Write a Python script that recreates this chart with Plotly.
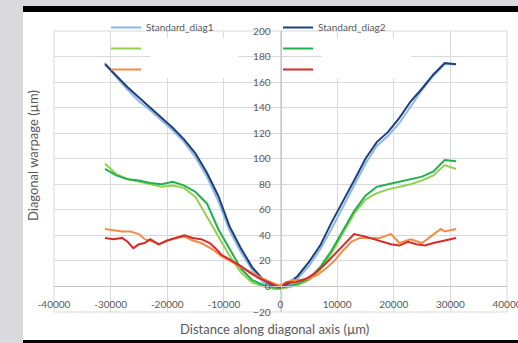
import plotly.graph_objects as go

# ---------------- data ----------------
x_std = [-31000, -29000, -27000, -25000, -23000, -21000, -19000, -17000, -15000,
         -13000, -11000, -9000, -7000, -5000, -3000, -1000, 0, 1000, 3000, 5000,
         7000, 9000, 11000, 13000, 15000, 17000, 19000, 21000, 23000, 25000,
         27000, 29000, 31000]

std_diag1 = [175, 164, 154, 145, 138, 130, 122, 113, 101, 86, 67, 44, 27, 13, 3, -1,
             -1, 0, 6, 16, 29, 45, 62, 80, 96, 110, 118, 128, 141, 154, 165, 174, 174]
std_diag2 = [174, 165, 156, 148, 140, 132, 124, 115, 104, 89, 71, 47, 30, 15, 5, 0,
             -1, 1, 8, 19, 32, 50, 66, 83, 100, 113, 121, 132, 145, 155, 166, 175, 174]

green_light = [96, 88, 84, 82, 80, 78, 79, 77, 70, 55, 40, 24, 11, 3, 0, -2,
               -2, -1, 1, 5, 13, 26, 42, 57, 68, 73, 76, 78, 80, 83, 87, 95, 92]
green_dark = [92, 87, 84, 83, 81, 80, 82, 79, 74, 65, 45, 29, 14, 5, 1, -1,
              -1, 0, 2, 6, 15, 28, 44, 59, 71, 78, 80, 82, 84, 86, 90, 99, 98]

x_orange = [-31000, -29500, -28000, -26500, -25000, -24000, -22500, -21500, -20000,
            -18500, -17000, -15500, -14000, -12000, -10500, -8500, -7000, -5500,
            -4000, -2500, -1000, 0, 1000, 2000, 3500, 5000, 6500, 8000, 9500, 11000,
            12500, 14000, 15500, 17500, 19500, 21000, 23000, 25000, 26500, 28300,
            29000, 30000, 31000]
orange = [45, 44, 43, 43, 41, 37, 35, 33, 36, 38, 39, 36, 34, 29, 24, 19, 15, 12,
          8, 5, 2, 1, 3, 5, 5, 6, 9, 14, 20, 28, 35, 38, 38, 38, 41, 34, 37, 34,
          39, 45, 43, 44, 45]

x_red = [-31000, -29500, -28000, -27000, -26000, -25000, -24000, -23000, -21500,
         -20000, -18500, -17000, -15500, -14000, -12500, -11500, -10500, -8500,
         -7000, -5500, -4000, -2000, 0, 1000, 2500, 4500, 6000, 8000, 10000, 11500,
         13000, 15000, 17500, 19500, 21000, 22500, 24000, 25500, 27000, 29000, 31000]
red = [38, 37, 38, 35, 30, 33, 34, 37, 33, 36, 38, 40, 38, 37, 34, 30, 25, 20, 16,
       11, 7, 3, -1, 3, 3, 6, 10, 18, 27, 34, 41, 39, 36, 33, 32, 35, 33, 32, 34,
       36, 38]

x_ticks = [-40000, -30000, -20000, -10000, 0, 10000, 20000, 30000, 40000]
y_ticks = [-20, 0, 20, 40, 60, 80, 100, 120, 140, 160, 180, 200]

# ---------------- figure ----------------
# the figure is a little wider than the 518 px window so that the
# right-most tick label is cut by the window edge, as in the reference
W, H = 535, 343
ML, MR, MT, MB = 54, 28, 31, 31
PW, PH = W - ML - MR, H - MT - MB


def px(x):
    return (x - ML) / PW


def py(y):
    return (H - MB - y) / PH


TXT = "#595959"
GRID = "#d9d9d9"
FONT = "Lato"

fig = go.Figure()

series = [
    ("Standard_diag1", x_std, std_diag1, "#8db8e6", "legend"),
    ("", x_std, green_light, "#92d050", "legend"),
    ("", x_orange, orange, "#f28c46", "legend"),
    ("Standard_diag2", x_std, std_diag2, "#1f3e7c", "legend2"),
    ("", x_std, green_dark, "#1fb14f", "legend2"),
    ("", x_red, red, "#d42b2b", "legend2"),
]
for i, (name, xs, ys, col, lg) in enumerate(series):
    fig.add_trace(go.Scatter(x=xs, y=ys, mode="lines", name=name,
                             line=dict(color=col, width=2),
                             legend=lg, legendgroup=f"g{i}", showlegend=True))

# draw order: light lines first for similar pairs
fig.data = (fig.data[0], fig.data[3], fig.data[1], fig.data[4], fig.data[2], fig.data[5])

legend_common = dict(font=dict(family=FONT, size=10, color=TXT),
                     bgcolor="rgba(0,0,0,0)", borderwidth=0,
                     tracegroupgap=2, xanchor="left", yanchor="top",
                     orientation="v")

fig.update_layout(
    width=W, height=H,
    margin=dict(l=ML, r=MR, t=MT, b=MB, pad=0, autoexpand=False),
    paper_bgcolor="white", plot_bgcolor="white",
    showlegend=True,
    legend=dict(x=px(106), y=py(13), **legend_common),
    legend2=dict(x=px(278), y=py(13), **legend_common),
    xaxis=dict(range=[-40000, 40000], tickvals=x_ticks,
               ticktext=[str(v) for v in x_ticks],
               showgrid=True, gridcolor=GRID, gridwidth=1, zeroline=False,
               showline=True, linecolor="#c8c8c8", linewidth=1,
               anchor="free", position=20 / 220,
               ticks="outside", ticklen=9, tickcolor="rgba(0,0,0,0)",
               ticklabeloverflow="allow",
               tickfont=dict(family=FONT, size=10, color=TXT)),
    yaxis=dict(range=[-20, 200], tickvals=y_ticks,
               showgrid=True, gridcolor=GRID, gridwidth=1, zeroline=False,
               showline=True, linecolor="#c8c8c8", linewidth=1,
               anchor="free", position=0.5,
               ticks="outside", ticklen=8, tickcolor="rgba(0,0,0,0)",
               ticklabeloverflow="allow",
               tickfont=dict(family=FONT, size=10, color=TXT)),
)

shapes = [
    # plot area frame
    dict(type="rect", xref="paper", yref="paper", x0=0, x1=1, y0=0, y1=1,
         line=dict(color=GRID, width=1), fillcolor="rgba(0,0,0,0)", layer="below"),
    # white redaction boxes over legend labels
    dict(type="rect", xref="paper", yref="paper", x0=px(150), x1=px(238),
         y0=py(78), y1=py(38), line=dict(width=0), fillcolor="white", layer="above"),
    dict(type="rect", xref="paper", yref="paper", x0=px(322), x1=px(411),
         y0=py(78), y1=py(38), line=dict(width=0), fillcolor="white", layer="above"),
    # surrounding frame of the screenshot
    dict(type="rect", xref="paper", yref="paper", x0=px(0), x1=px(23),
         y0=py(H), y1=py(0), line=dict(width=0), fillcolor="#dadade", layer="above"),
    dict(type="rect", xref="paper", yref="paper", x0=px(0), x1=px(W),
         y0=py(6), y1=py(0), line=dict(width=0), fillcolor="#dadade", layer="above"),
    dict(type="rect", xref="paper", yref="paper", x0=px(23), x1=px(W),
         y0=py(12), y1=py(6), line=dict(width=0), fillcolor="black", layer="above"),
    dict(type="rect", xref="paper", yref="paper", x0=px(23), x1=px(W),
         y0=py(H), y1=py(340), line=dict(width=0), fillcolor="black", layer="above"),
]
fig.update_layout(shapes=shapes)

fig.add_annotation(text="Distance along diagonal axis (µm)", xref="paper", yref="paper",
                   x=px(274), y=py(329), showarrow=False, xanchor="center", yanchor="middle",
                   font=dict(family=FONT, size=13, color=TXT))
fig.add_annotation(text="Diagonal warpage (µm)", xref="paper", yref="paper",
                   x=px(33), y=py(156), showarrow=False, xanchor="center", yanchor="middle",
                   textangle=-90, font=dict(family=FONT, size=13, color=TXT))

fig.write_html("out.html", config={"displayModeBar": False},
               post_script=("document.documentElement.style.overflow='hidden';"
                            "document.body.style.margin='0';"
                            "document.body.style.overflow='hidden';"))
